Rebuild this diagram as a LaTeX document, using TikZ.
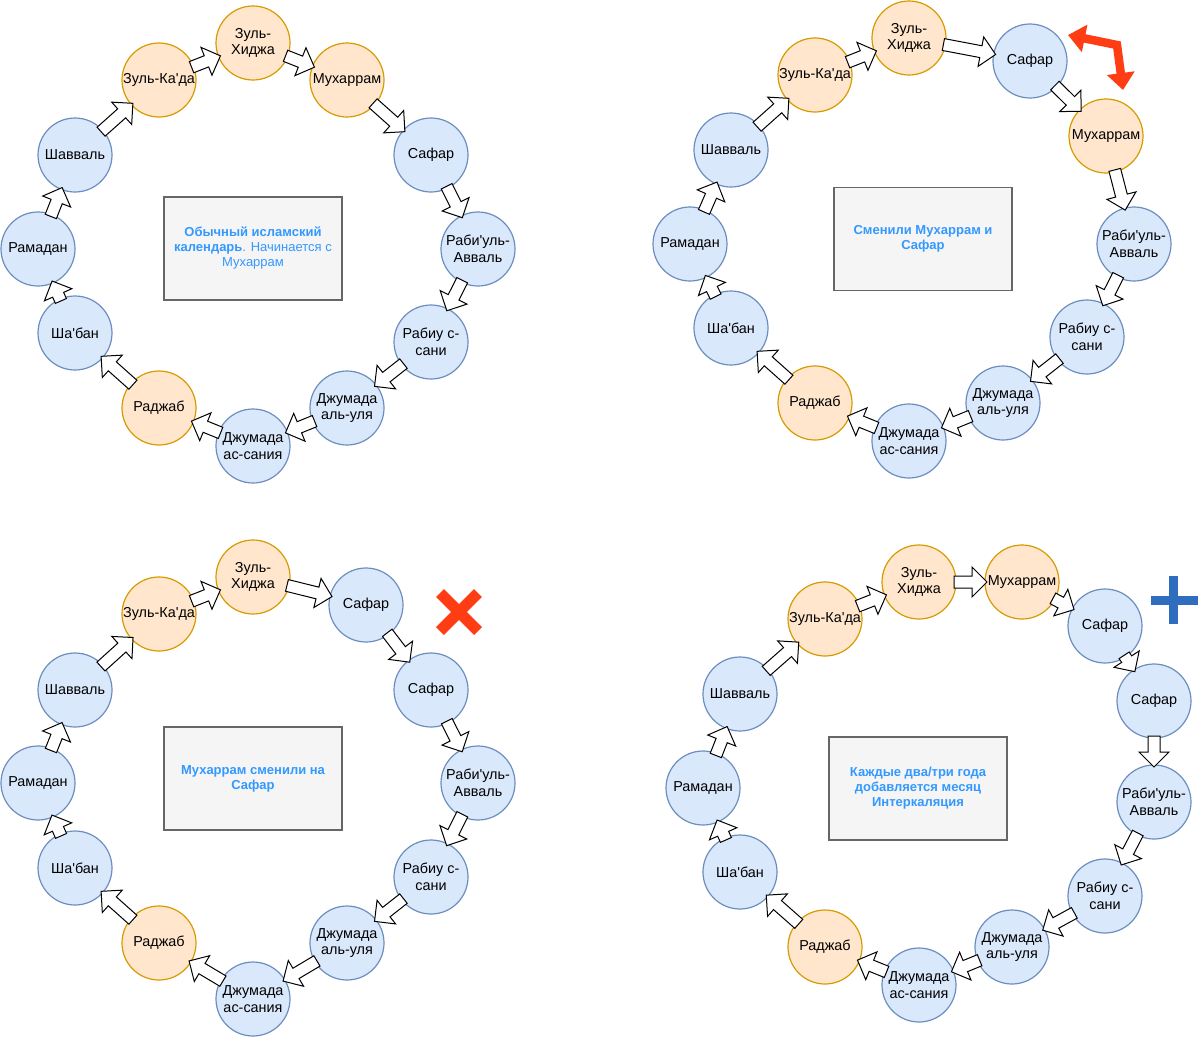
\documentclass[tikz,border=0pt]{standalone}
\usepackage{fontspec}
\setmainfont{Liberation Sans}
\usetikzlibrary{calc,arrows.meta}
\definecolor{coolfill}{HTML}{DAE8FC}
\definecolor{coolline}{HTML}{6C8EBF}
\definecolor{holyfill}{HTML}{FFE6CC}
\definecolor{holyline}{HTML}{D79B00}
\definecolor{notefill}{HTML}{F5F5F5}
\definecolor{noteline}{HTML}{666666}
\definecolor{notetext}{HTML}{3399FF}
\definecolor{warn}{HTML}{FF3D14}
\definecolor{addblue}{HTML}{2F6EBF}
\newcommand{\ap}{\textquotesingle}

\begin{document}
\begin{tikzpicture}[
  x=1pt,y=-1pt,
  month/.style={circle,line width=1.2pt,minimum size=74pt,inner sep=0pt,align=center,
    font=\fontsize{14.4}{16.7}\selectfont},
  cool/.style={month,fill=coolfill,draw=coolline},
  holy/.style={month,fill=holyfill,draw=holyline},
  note/.style={draw=noteline,fill=notefill,line width=1.2pt,minimum width=178pt,
    minimum height=103pt,align=center,text=notetext,font=\fontsize{13}{15}\selectfont\bfseries},
  flex/.style={draw,fill=white,line width=1pt,
    to path={let \p1=(\tikztostart),\p2=(\tikztotarget),
      \n1={atan2(\y2-\y1,\x2-\x1)},\n2={veclen(\x2-\x1,\y2-\y1)} in
      ($(\p1)+(\n1:35pt)+(\n1+90:6pt)$)
      -- ($(\p1)+(\n1:\n2-50pt)+(\n1+90:6pt)$)
      -- ($(\p1)+(\n1:\n2-50pt)+(\n1+90:15pt)$)
      -- ($(\p1)+(\n1:\n2-35pt)$)
      -- ($(\p1)+(\n1:\n2-50pt)+(\n1-90:15pt)$)
      -- ($(\p1)+(\n1:\n2-50pt)+(\n1-90:6pt)$)
      -- ($(\p1)+(\n1:35pt)+(\n1-90:6pt)$) -- cycle}},
  swap/.style={warn,line width=8.5pt,line join=miter,
    {Triangle[length=17pt,width=27pt]}-{Triangle[length=17pt,width=27pt]}}
]
  \useasboundingbox[fill=white] (0,0) rectangle (1200,1037);

  \foreach \n/\x/\y/\s/\t in {1/159/80/holy/Зуль-Ка\ap да,2/253/43/holy/{Зуль-\\Хиджа},
      3/347/80/holy/Мухаррам,4/431/155/cool/Сафар,5/478/249/cool/{Раби\ap уль-\\Авваль},
      6/431/342/cool/{Рабиу с-\\сани},7/347/408/cool/{Джумада\\аль-уля},
      8/253/446/cool/{Джумада\\ас-сания},9/159/408/holy/Раджаб,10/75/333/cool/Ша\ap бан,
      11/38/249/cool/Рамадан,12/75/155/cool/Шавваль}
    \node[\s] (a\n) at (\x,\y) {\t};
  \foreach \i in {1,...,12} {
    \pgfmathtruncatemacro{\j}{mod(\i,12)+1}
    \draw[flex] (a\i) to (a\j);
  }
  \node[note] (anote) at (253,248.5)
    {Обычный исламский\\календарь\mdseries. Начинается с\\\mdseries Мухаррам};

  \foreach \n/\x/\y/\s/\t in {1/815/75/holy/Зуль-Ка\ap да,2/909/38/holy/{Зуль-\\Хиджа},
      3/1030/61/cool/Сафар,4/1106/136/holy/Мухаррам,5/1134/244/cool/{Раби\ap уль-\\Авваль},
      6/1087/337/cool/{Рабиу с-\\сани},7/1003/403/cool/{Джумада\\аль-уля},
      8/909/441/cool/{Джумада\\ас-сания},9/815/403/holy/Раджаб,10/731/328/cool/Ша\ap бан,
      11/690/244/cool/Рамадан,12/731/150/cool/Шавваль}
    \node[\s] (b\n) at (\x,\y) {\t};
  \foreach \i in {1,...,12} {
    \pgfmathtruncatemacro{\j}{mod(\i,12)+1}
    \draw[flex] (b\i) to (b\j);
  }
  \node[note] (bnote) at (923,239) {Сменили Мухаррам и\\Сафар};
  \coordinate (swapa) at (1068,35);
  \coordinate (swapm) at (1117,45);
  \coordinate (swapb) at (1123,90);
  \draw[swap] (swapa) -- (swapm) -- (swapb);

  \foreach \n/\x/\y/\s/\t in {1/159/614/holy/Зуль-Ка\ap да,2/253/577/holy/{Зуль-\\Хиджа},
      3/366/605/cool/Сафар,4/431/690/cool/Сафар,5/478/783/cool/{Раби\ap уль-\\Авваль},
      6/431/877/cool/{Рабиу с-\\сани},7/347/943/cool/{Джумада\\аль-уля},
      8/253/999/cool/{Джумада\\ас-сания},9/159/943/holy/Раджаб,10/75/868/cool/Ша\ap бан,
      11/38/783/cool/Рамадан,12/75/690/cool/Шавваль}
    \node[\s] (c\n) at (\x,\y) {\t};
  \foreach \i in {1,...,12} {
    \pgfmathtruncatemacro{\j}{mod(\i,12)+1}
    \draw[flex] (c\i) to (c\j);
  }
  \node[note] (cnote) at (253,778.5) {Мухаррам сменили на\\Сафар};
  \draw[warn,line width=11pt] (440,593) -- (478,631) (478,593) -- (440,631);

  \foreach \n/\x/\y/\s/\t in {1/825/619/holy/Зуль-Ка\ap да,2/919/582/holy/{Зуль-\\Хиджа},
      3/1022/582/holy/Мухаррам,4/1105/626/cool/Сафар,5/1154/701/cool/Сафар,
      6/1154/802/cool/{Раби\ap уль-\\Авваль},7/1105/896/cool/{Рабиу с-\\сани},
      8/1012/947/cool/{Джумада\\аль-уля},9/919/985/cool/{Джумада\\ас-сания},
      10/825/947/holy/Раджаб,11/740/872/cool/Ша\ap бан,12/703/788/cool/Рамадан,
      13/740/694/cool/Шавваль}
    \node[\s] (d\n) at (\x,\y) {\t};
  \foreach \i in {1,...,13} {
    \pgfmathtruncatemacro{\j}{mod(\i,13)+1}
    \draw[flex] (d\i) to (d\j);
  }
  \node[note] (dnote) at (918,788.5) {Каждые два/три года\\добавляется месяц\\Интеркаляция};
  \draw[addblue,line width=9pt] (1173,576) -- (1173,624) (1151,600) -- (1198,600);
\end{tikzpicture}
\end{document}
